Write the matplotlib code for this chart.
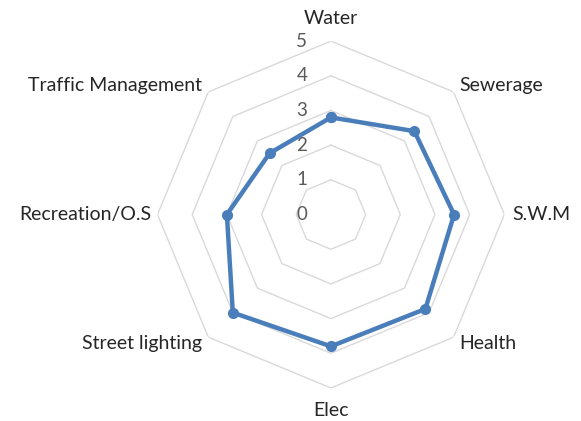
import numpy as np
import matplotlib
matplotlib.use("Agg")
import matplotlib.pyplot as plt

categories = ["Water", "Sewerage", "S.W.M", "Health", "Elec",
              "Street lighting", "Recreation/O.S", "Traffic Management"]
scores = [2.8, 3.4, 3.55, 3.85, 3.8, 4.0, 3.0, 2.5]
ring_levels = [0, 1, 2, 3, 4, 5]

LINE_BLUE = "#4a7ebb"
GRID_GRAY = "#d9d9d9"
TEXT_DARK = "#262626"
TICK_GRAY = "#595959"
FONT = "Lato"

n = len(categories)
angles = np.linspace(0, 2 * np.pi, n, endpoint=False)
closed = np.append(angles, angles[0])

fig = plt.figure(figsize=(5.81, 4.21), dpi=100)
ax = fig.add_axes([0.2711, 0.0784, 0.597, 0.824], projection="polar")
ax.set_theta_zero_location("N")
ax.set_theta_direction(-1)
ax.set_ylim(0, 5)
ax.grid(False)
ax.spines["polar"].set_visible(False)
ax.set_xticks([])
ax.set_yticks([])
ax.patch.set_alpha(0)

# octagon rings
for k in ring_levels[1:]:
    ax.plot(closed, [k] * (n + 1), color=GRID_GRAY, lw=1.0, zorder=1)

# scale labels on the top axis
for k in ring_levels:
    ax.annotate(str(k), xy=(0, k), xytext=(-17, 0), textcoords="offset points",
                ha="right", va="center", fontsize=13.5, color=TICK_GRAY,
                family=FONT)

# data series
vals = scores + scores[:1]
ax.plot(closed, vals, color=LINE_BLUE, lw=3.2, marker="o", ms=7,
        zorder=3, solid_joinstyle="round")

# category labels
label_pos = {
    0: (5.65, "center", "center"),
    1: (5.25, "left", "center"),
    2: (5.22, "left", "center"),
    3: (5.25, "left", "center"),
    4: (5.65, "center", "center"),
    5: (5.25, "right", "center"),
    6: (5.18, "right", "center"),
    7: (5.25, "right", "center"),
}
for i, name in enumerate(categories):
    r, ha, va = label_pos[i]
    ax.text(angles[i], r, name, ha=ha, va=va, fontsize=14,
            color=TEXT_DARK, family=FONT, clip_on=False)

fig.savefig("out.png", dpi=100)
